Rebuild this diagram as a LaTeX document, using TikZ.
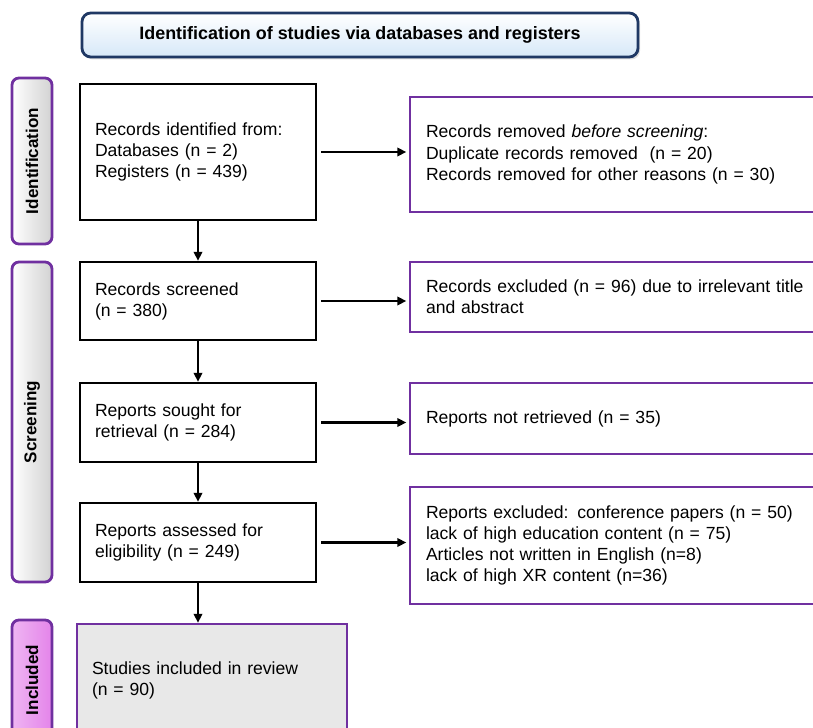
\documentclass[tikz,border=0pt]{standalone}
\usepackage{fontspec}
\setmainfont{Liberation Sans}
\usetikzlibrary{arrows.meta, positioning, calc, shadows}
\definecolor{navy}{RGB}{31, 56, 100}
\definecolor{frame}{RGB}{112, 48, 160}
\definecolor{skyfill}{RGB}{214, 232, 248}
\definecolor{sidegray}{RGB}{210, 210, 210}
\definecolor{orchid}{RGB}{228, 132, 234}
\definecolor{boxgray}{RGB}{232, 232, 232}

\begin{document}
\begin{tikzpicture}[font=\fontsize{10}{12}\selectfont,
        box/.style={rectangle, draw=black, line width=1.4pt, fill=white, inner xsep=0.3cm,
                    text width=4.12cm, minimum width=4.72cm, align=left},
        outbox/.style={rectangle, draw=frame, line width=1.4pt, fill=white, inner xsep=0.32cm,
                       text width=7.76cm, minimum width=8.4cm, align=left},
        phase/.style={rectangle, rounded corners=4pt, draw=frame, line width=1.6pt, rotate=90,
                      minimum height=0.8cm, font=\fontsize{9.7}{10}\selectfont\bfseries},
        flow/.style={-{Triangle[length=1.8mm, width=1.7mm]}, line width=1.3pt}]
    \clip (0,0) rectangle (16.26,-14.56);
    \node[rectangle, rounded corners=5pt, draw=navy, line width=1.6pt, top color=white, bottom color=skyfill,
          minimum width=11.12cm, minimum height=0.88cm, font=\fontsize{10.2}{11}\selectfont\bfseries,
          drop shadow={opacity=0.25, shadow xshift=0.04cm, shadow yshift=-0.05cm}]
          (head) at (7.2,-0.70) {Identification of studies via databases and registers};
    \node[phase, minimum width=3.32cm, left color=white, right color=sidegray] (pid) at (0.64,-3.22) {Identification};
    \node[phase, minimum width=6.4cm, left color=white, right color=sidegray] (pscr) at (0.64,-8.44) {Screening};
    \node[phase, minimum width=2.4cm, left color=orchid!60, right color=orchid] (pinc) at (0.64,-13.6) {Included};
    \node[box, minimum height=2.72cm] (ident) at (3.96,-3.04)
        {Records identified from:\\Databases (n = 2)\\Registers (n = 439)};
    \node[box, minimum height=1.56cm] (screened) at (3.96,-6.02) {Records screened\\(n = 380)};
    \node[box, minimum height=1.58cm] (sought) at (3.96,-8.45) {Reports sought for\\retrieval (n = 284)};
    \node[box, minimum height=1.58cm] (assessed) at (3.96,-10.85) {Reports assessed for\\eligibility (n = 249)};
    \node[rectangle, draw=frame, line width=1.4pt, fill=boxgray, inner xsep=0.3cm, text width=4.8cm,
          minimum width=5.4cm, minimum height=2.24cm, align=left] (included) at (4.24,-13.6)
        {Studies included in review\\(n = 90)};
    \node[outbox, minimum height=2.3cm] (removed) at (12.4,-3.09)
        {Records removed \textit{before screening}:\\Duplicate records removed\ \ (n = 20)\\Records removed for other reasons (n = 30)};
    \node[outbox, minimum height=1.4cm] (excluded) at (12.4,-5.94)
        {Records excluded (n = 96) due to irrelevant title\\and abstract};
    \node[outbox, minimum height=1.42cm] (notretr) at (12.4,-8.37) {Reports not retrieved (n = 35)};
    \node[outbox, minimum height=2.34cm] (repexcl) at (12.4,-10.91)
        {Reports excluded: conference papers (n = 50)\\lack of high education content (n = 75)\\Articles not written in English (n=8)\\lack of high XR content (n=36)};
    \foreach \a/\b in {ident/removed, screened/excluded, sought/notretr, assessed/repexcl}
        \draw[flow, shorten <=0.08cm, shorten >=0.05cm] (\a.east) -- (\a.east -| \b.west);
    \foreach \a/\b in {ident/screened, screened/sought, sought/assessed, assessed/included}
        \draw[flow] (\a.south) -- (\a.south |- \b.north);
\end{tikzpicture}
\end{document}
